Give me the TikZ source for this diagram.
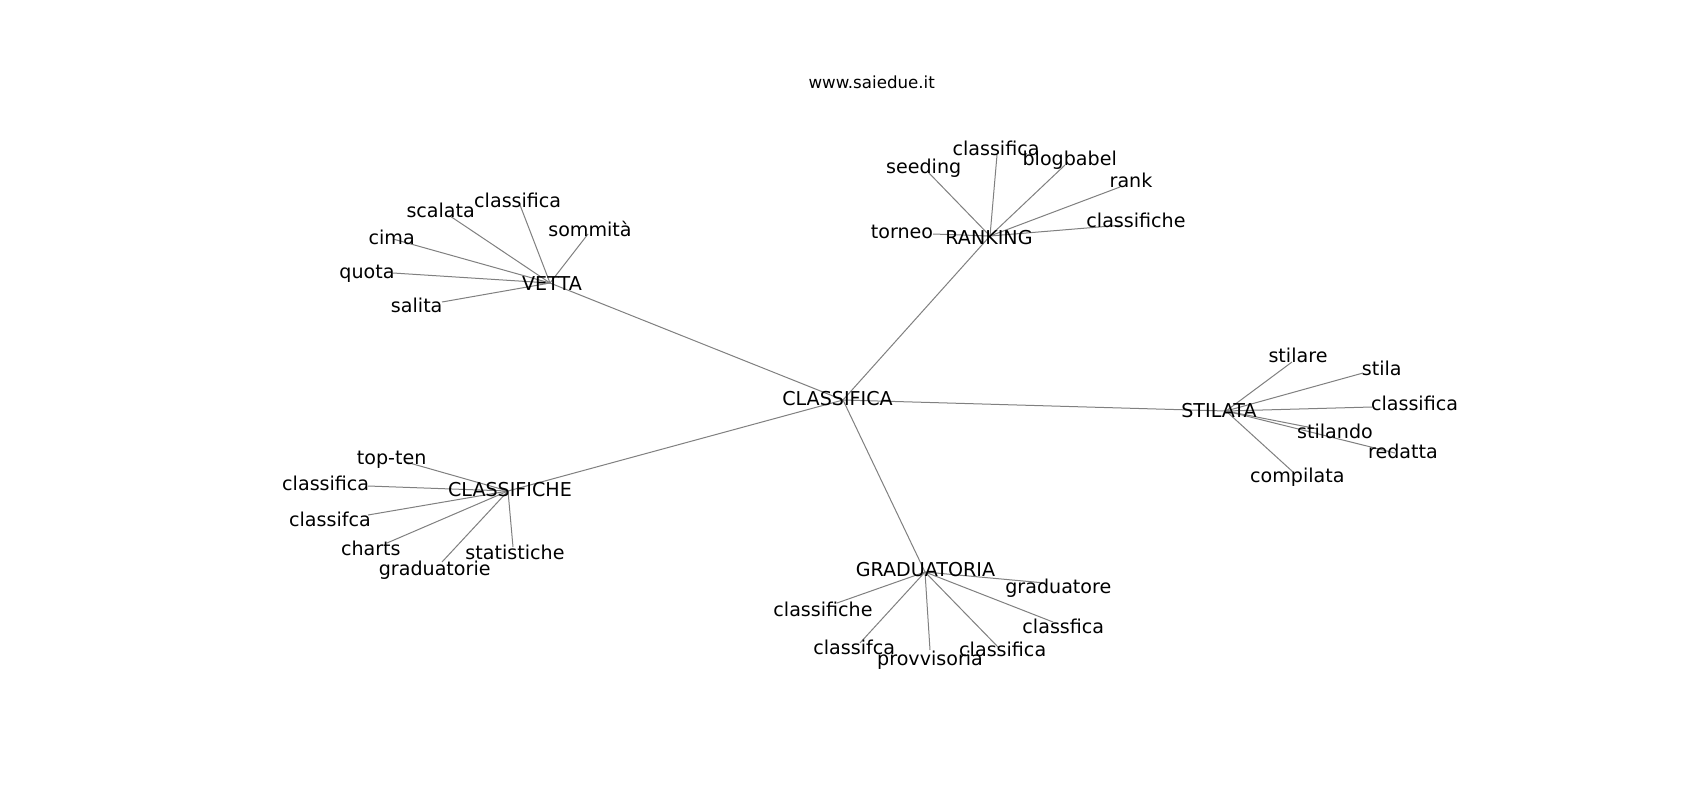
\documentclass[tikz,border=0pt]{standalone}
\usepackage{fontspec}
\setmainfont{DejaVu Sans}
\begin{document}
\begin{tikzpicture}[x=0.72pt,y=-0.72pt,
  lbl/.style={inner sep=0pt,text height=0.76em,text depth=0pt,anchor=center,yshift=-1.4pt,
    font=\fontsize{13.75}{16}\selectfont,text=black},
  ttl/.style={inner sep=0pt,anchor=base,font=\fontsize{12}{14}\selectfont,text=black},
  edge/.style={draw=gray,line width=0.72pt}]
\useasboundingbox[fill=white] (0,0) rectangle (1700,800);
% node positions
\coordinate (nCL) at (843,400);
\coordinate (nVE) at (550,283);
\coordinate (nRA) at (990,236);
\coordinate (nST) at (1226,411);
\coordinate (nCH) at (508,491);
\coordinate (nGR) at (925,572);
% VETTA leaves
\coordinate (nscalata) at (450,216);
\coordinate (nvclass) at (520,205);
\coordinate (nsommita) at (588,234);
\coordinate (ncima) at (393,239);
\coordinate (nquota) at (393,273);
\coordinate (nsalita) at (442,302);
% RANKING leaves
\coordinate (nseeding) at (928,172);
\coordinate (nrclass) at (997,155);
\coordinate (nblog) at (1065,165);
\coordinate (nrank) at (1120,187);
\coordinate (nrclassi) at (1123,225);
\coordinate (ntorneo) at (933,234);
% STILATA leaves
\coordinate (nstilare) at (1292,362);
\coordinate (nstila) at (1363,373);
\coordinate (nsclass) at (1372,407);
\coordinate (nstilando) at (1318,429);
\coordinate (nredatta) at (1395,453);
\coordinate (ncompilata) at (1293,472);
% CLASSIFICHE leaves
\coordinate (ntopten) at (406,462);
\coordinate (ncclass) at (368,486);
\coordinate (ncclassifca) at (368,515);
\coordinate (ncharts) at (387,543);
\coordinate (ngraduatorie) at (442,562);
\coordinate (nstatistiche) at (513,547);
% GRADUATORIA leaves
\coordinate (ngraduatore) at (1045,583);
\coordinate (ngclassi) at (837,603);
\coordinate (ngclassifca) at (860,643);
\coordinate (nprovv) at (930,650);
\coordinate (ngclass) at (998,647);
\coordinate (nclassfica) at (1053,622);
% edges
\draw[edge] (nCL) -- (nVE);
\draw[edge] (nCL) -- (nRA);
\draw[edge] (nCL) -- (nST);
\draw[edge] (nCL) -- (nCH);
\draw[edge] (nCL) -- (nGR);
\foreach \l in {nscalata,nvclass,nsommita,ncima,nquota,nsalita} \draw[edge] (nVE) -- (\l);
\foreach \l in {nseeding,nrclass,nblog,nrank,nrclassi,ntorneo} \draw[edge] (nRA) -- (\l);
\foreach \l in {nstilare,nstila,nsclass,nstilando,nredatta,ncompilata} \draw[edge] (nST) -- (\l);
\foreach \l in {ntopten,ncclass,ncclassifca,ncharts,ngraduatorie,nstatistiche} \draw[edge] (nCH) -- (\l);
\foreach \l in {ngraduatore,ngclassi,ngclassifca,nprovv,ngclass,nclassfica} \draw[edge] (nGR) -- (\l);
% labels
\node[ttl] (title) at (871.7,88) {www.saiedue.it};
\node[lbl] (CL) at (837.5,398) {CLASSIFICA};
\node[lbl] (VE) at (552,283) {VETTA};
\node[lbl] (RA) at (989,237) {RANKING};
\node[lbl] (ST) at (1219,410) {STILATA};
\node[lbl] (CH) at (510,489) {CLASSIFICHE};
\node[lbl] (GR) at (925.5,569) {GRADUATORIA};
\node[lbl] (scalata) at (440.7,210.7) {scalata};
\node[lbl] (vclass) at (517.7,200) {classifica};
\node[lbl] (sommita) at (590,229) {sommità};
\node[lbl] (cima) at (391.7,237) {cima};
\node[lbl] (quota) at (367,271) {quota};
\node[lbl] (salita) at (416.7,305) {salita};
\node[lbl] (seeding) at (923.7,166.7) {seeding};
\node[lbl] (rclass) at (996,148) {classifica};
\node[lbl] (blog) at (1069.7,158.3) {blogbabel};
\node[lbl] (rank) at (1131,180.7) {rank};
\node[lbl] (rclassi) at (1136,220) {classifiche};
\node[lbl] (torneo) at (902,231.7) {torneo};
\node[lbl] (stilare) at (1298,355) {stilare};
\node[lbl] (stila) at (1381.7,368.3) {stila};
\node[lbl] (sclass) at (1414.5,403.5) {classifica};
\node[lbl] (stilando) at (1335,431.7) {stilando};
\node[lbl] (redatta) at (1403,451.7) {redatta};
\node[lbl] (compilata) at (1297.3,475) {compilata};
\node[lbl] (topten) at (391.7,457.3) {top-ten};
\node[lbl] (cclass) at (325.7,483.3) {classifica};
\node[lbl] (cclassifca) at (330,519) {classifca};
\node[lbl] (charts) at (370.8,548.3) {charts};
\node[lbl] (graduatorie) at (434.7,568.3) {graduatorie};
\node[lbl] (statistiche) at (515,552.7) {statistiche};
\node[lbl] (graduatore) at (1058.3,586.7) {graduatore};
\node[lbl] (gclassi) at (823,609.3) {classifiche};
\node[lbl] (gclassifca) at (854.2,647.3) {classifca};
\node[lbl] (provv) at (930,658.3) {provvisoria};
\node[lbl] (gclass) at (1002.7,649.3) {classifica};
\node[lbl] (classfica) at (1063.3,626.7) {classfica};
\end{tikzpicture}
\end{document}
